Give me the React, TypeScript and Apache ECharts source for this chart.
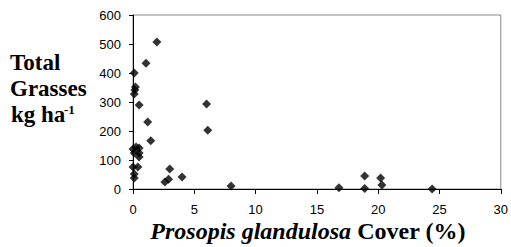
import React, { useEffect, useRef } from "react";
import * as echarts from "echarts";

const coverPct = [
  1.95, 1.06, 0.1, 0.2, 0.15, 0.1, 0.5, 1.2, 1.45, 0, 0.25, 0.5, 0.1, 0.5, 0.5,
  0, 0.4, 0.1, 0.1, 3.0, 4.0, 2.6, 2.9, 6.0, 6.1, 8.0, 16.8, 18.9, 18.9, 20.2,
  20.3, 24.4,
];
const grassKg = [
  507, 434, 400, 352, 341, 328, 290, 231, 166, 138, 145, 141, 124, 124, 110,
  76, 76, 52, 38, 69, 41, 24, 34, 293, 203, 10, 4, 45, 2, 38, 14, 0,
];
const yTicks = { min: 0, max: 600, interval: 100 };
const xTicks = { min: 0, max: 30, interval: 5 };

export default function App() {
  const ref = useRef<HTMLDivElement>(null);
  useEffect(() => {
    if (!ref.current) return;
    const chart = echarts.init(ref.current, null, { renderer: "svg" });
    const data = coverPct.map((x, i) => [x, grassKg[i]]);
    const serif = "'Liberation Serif', 'Times New Roman', serif";
    const sans = "'Liberation Sans', Arial, sans-serif";
    chart.setOption({
      animation: false,
      backgroundColor: "#fff",
      grid: {
        left: 133,
        right: 9,
        top: 15,
        bottom: 58,
        show: true,
        borderColor: "#888",
        borderWidth: 1,
      },
      xAxis: {
        type: "value",
        ...xTicks,
        axisLine: { show: true, onZero: false, lineStyle: { color: "#000", width: 1 } },
        axisTick: { show: true, length: 5, inside: false, lineStyle: { color: "#000" } },
        splitLine: { show: false },
        axisLabel: { color: "#000", fontSize: 13, fontFamily: sans, margin: 14 },
      },
      yAxis: {
        type: "value",
        ...yTicks,
        axisLine: { show: true, onZero: false, lineStyle: { color: "#000", width: 1 } },
        axisTick: { show: true, length: 4, inside: false, lineStyle: { color: "#000" } },
        splitLine: { show: false },
        axisLabel: { color: "#000", fontSize: 13, fontFamily: sans, margin: 12 },
      },
      series: [
        {
          type: "scatter",
          data,
          symbol: "diamond",
          symbolSize: 9,
          itemStyle: { color: "#000" },
        },
      ],
      graphic: [
        {
          type: "text",
          left: 10,
          top: 51,
          style: { text: "Total", font: `bold 23px ${serif}`, fill: "#000" },
        },
        {
          type: "text",
          left: 10,
          top: 77,
          style: { text: "Grasses", font: `bold 23px ${serif}`, fill: "#000" },
        },
        {
          type: "text",
          left: 11,
          top: 103,
          style: { text: "kg ha", font: `bold 23px ${serif}`, fill: "#000" },
        },
        {
          type: "text",
          left: 64,
          top: 103,
          style: { text: "-1", font: `bold 13px ${serif}`, fill: "#000" },
        },
        {
          type: "text",
          x: 308,
          y: 231,
          style: {
            text: "{i|Prosopis glandulosa}{b| Cover (%)}",
            align: "center",
            verticalAlign: "middle",
            fill: "#000",
            rich: {
              i: { font: `italic bold 24px ${serif}`, fill: "#000" },
              b: { font: `bold 24px ${serif}`, fill: "#000" },
            },
          },
        },
      ],
    });
    return () => chart.dispose();
  }, []);
  return <div ref={ref} style={{ width: 511, height: 247, position: "absolute", left: 0, top: 0 }} />;
}
